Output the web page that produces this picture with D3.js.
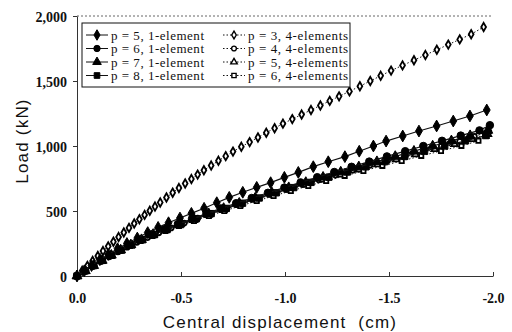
<!DOCTYPE html>
<html>
  <head>
    <meta charset="utf-8">
    <title>Load vs central displacement</title>
  </head>

  <style>

    body {
      margin: 0;
      background: #ffffff;
    }

    .tick text {
      font-family: "Liberation Serif", "Times New Roman", serif;
      font-size: 14px;
      font-weight: bold;
      fill: #111;
    }

    .legend text {
      font-family: "Liberation Serif", "Times New Roman", serif;
      font-size: 13px;
      fill: #111;
    }

    .title {
      font-family: "Liberation Sans", Arial, sans-serif;
      font-size: 17px;
      fill: #111;
      letter-spacing: 1.2px;
    }

  </style>

  <body>
    <script src="https://cdn.jsdelivr.net/npm/d3@7"></script>
    <script>

      // tick values
      var xTicks = [0, -0.5, -1.0, -1.5, -2.0];
      var yTicks = [0, 500, 1000, 1500, 2000];

      // [displacement (cm), load (kN)]
      var p3Four = [[0,0],[-0.025,40],[-0.05,78],[-0.075,116],[-0.1,154],[-0.125,192],[-0.15,228],
        [-0.175,264],[-0.2,300],[-0.225,335],[-0.25,370],[-0.275,404],[-0.3,437],[-0.325,470],
        [-0.35,502],[-0.375,534],[-0.4,566],[-0.43,604],[-0.46,641],[-0.49,677],[-0.52,712],
        [-0.55,746],[-0.58,780],[-0.61,814],[-0.645,850],[-0.68,886],[-0.715,922],[-0.75,957],
        [-0.79,994],[-0.83,1030],[-0.87,1066],[-0.91,1102],[-0.95,1137],[-0.99,1172],[-1.035,1207],
        [-1.08,1242],[-1.125,1277],[-1.17,1312],[-1.215,1347],[-1.26,1382],[-1.31,1420],[-1.36,1460],
        [-1.41,1500],[-1.46,1540],[-1.51,1580],[-1.565,1620],[-1.62,1660],[-1.675,1700],[-1.73,1740],
        [-1.785,1780],[-1.84,1820],[-1.895,1860],[-1.955,1915]];

      var p5One = [[0,0],[-0.035,40],[-0.07,80],[-0.11,125],[-0.15,165],[-0.195,210],[-0.24,250],
        [-0.29,292],[-0.34,334],[-0.39,374],[-0.44,410],[-0.495,446],[-0.55,482],[-0.611,521],
        [-0.672,564],[-0.732,605],[-0.797,644],[-0.864,682],[-0.931,718],[-0.997,759],[-1.064,797],
        [-1.136,841],[-1.208,879],[-1.288,918],[-1.357,960],[-1.425,1000],[-1.486,1038],[-1.566,1077],
        [-1.644,1115],[-1.729,1154],[-1.809,1192],[-1.889,1231],[-1.97,1277]];

      var p6One = [[0,0],[-0.04,40],[-0.079,80],[-0.12,120],[-0.163,160],[-0.207,200],[-0.255,240],
        [-0.305,280],[-0.36,320],[-0.42,360],[-0.485,400],[-0.553,440],[-0.622,480],[-0.692,520],
        [-0.765,560],[-0.84,600],[-0.918,640],[-0.997,680],[-1.075,720],[-1.155,760],[-1.237,800],
        [-1.32,840],[-1.405,880],[-1.49,920],[-1.578,960],[-1.665,1000],[-1.755,1040],[-1.845,1080],
        [-1.935,1120],[-1.985,1160]];

      var p7One = [[0,0],[-0.04,40],[-0.08,80],[-0.121,120],[-0.165,160],[-0.21,200],[-0.259,240],
        [-0.31,280],[-0.366,320],[-0.427,360],[-0.492,400],[-0.562,440],[-0.633,480],[-0.705,520],
        [-0.78,560],[-0.857,600],[-0.937,640],[-1.018,680],[-1.1,720],[-1.183,760],[-1.268,800],
        [-1.355,840],[-1.442,880],[-1.53,920],[-1.62,960],[-1.71,1000],[-1.8,1040],[-1.89,1080],
        [-1.975,1120]];

      var p8One = [[0,0],[-0.04,40],[-0.08,80],[-0.122,120],[-0.167,160],[-0.213,200],[-0.263,240],
        [-0.314,280],[-0.371,320],[-0.433,360],[-0.5,400],[-0.573,440],[-0.645,480],[-0.718,520],
        [-0.796,560],[-0.876,600],[-0.958,640],[-1.042,680],[-1.125,720],[-1.211,760],[-1.3,800],
        [-1.389,840],[-1.481,880],[-1.576,920],[-1.671,960],[-1.768,1000],[-1.868,1040],[-1.965,1080]];

      var p4Four = [[0,0],[-0.037,37],[-0.074,74],[-0.113,111],[-0.154,148],[-0.196,185],[-0.241,222],
        [-0.288,259],[-0.339,296],[-0.393,333],[-0.452,370],[-0.515,407],[-0.58,444],[-0.647,481],
        [-0.715,518],[-0.785,555],[-0.858,592],[-0.933,629],[-1.008,666],[-1.085,703],[-1.163,740],
        [-1.243,777],[-1.325,814],[-1.408,851],[-1.493,888],[-1.578,925],[-1.665,962],[-1.752,999],
        [-1.84,1036],[-1.91,1073],[-1.98,1110]];

      var p5Four = [[0,0],[-0.039,39],[-0.078,78],[-0.119,117],[-0.162,156],[-0.207,195],[-0.256,234],
        [-0.308,273],[-0.364,312],[-0.425,351],[-0.49,390],[-0.56,429],[-0.63,468],[-0.703,507],
        [-0.778,546],[-0.855,585],[-0.935,624],[-1.016,663],[-1.098,702],[-1.182,741],[-1.268,780],
        [-1.356,819],[-1.445,858],[-1.535,897],[-1.627,936],[-1.72,975],[-1.815,1014],[-1.9,1053],
        [-1.975,1092]];

      var p6Four = [[0,0],[-0.038,38],[-0.077,77],[-0.117,115],[-0.16,154],[-0.205,192],[-0.254,231],
        [-0.306,269],[-0.363,308],[-0.425,346],[-0.49,385],[-0.562,423],[-0.634,462],[-0.708,500],
        [-0.785,539],[-0.864,577],[-0.945,616],[-1.028,654],[-1.112,693],[-1.198,731],[-1.287,770],
        [-1.377,808],[-1.468,847],[-1.561,885],[-1.655,924],[-1.75,962],[-1.848,1001],[-1.93,1040],
        [-1.97,1078]];

      var seriesNames = ["p = 5, 1-element", "p = 6, 1-element", "p = 7, 1-element", "p = 8, 1-element",
        "p = 3, 4-elements", "p = 4, 4-elements", "p = 5, 4-elements", "p = 6, 4-elements"];
      var seriesData = [p5One, p6One, p7One, p8One, p3Four, p4Four, p5Four, p6Four];
      var seriesShape = [d3.symbolDiamond, d3.symbolCircle, d3.symbolTriangle, d3.symbolSquare,
        d3.symbolDiamond, d3.symbolCircle, d3.symbolTriangle, d3.symbolSquare];
      var seriesSize = [40, 44, 42, 40, 20, 20, 20, 18];

      var width = 512,
        height = 332;

      var svg = d3.select("body")
        .append("svg")
        .attr("width", width)
        .attr("height", height);

      var x = d3.scaleLinear().domain([0, -2]).range([77, 493]);
      var y = d3.scaleLinear().domain([0, 2000]).range([276, 16]);

      // top frame line (dotted, faint)
      svg.append("line")
        .attr("x1", x(0)).attr("x2", x(-2))
        .attr("y1", y(2000)).attr("y2", y(2000))
        .attr("stroke", "#666")
        .attr("stroke-dasharray", "2,2");

      var yAxis = svg.append("g")
        .attr("transform", "translate(" + x(0) + ",0)")
        .call(d3.axisLeft(y).tickValues(yTicks).tickFormat(d3.format(",")).tickSize(4).tickSizeOuter(0).tickPadding(6));

      var xAxis = svg.append("g")
        .attr("transform", "translate(0," + y(0) + ")")
        .call(d3.axisBottom(x).tickValues(xTicks).tickFormat(d => d.toFixed(1)).tickSize(-4).tickSizeOuter(0).tickPadding(17));

      svg.selectAll(".domain").attr("stroke", "#333");
      svg.selectAll(".tick line").attr("stroke", "#333");
      yAxis.selectAll(".tick text").attr("dy", "0.36em");

      // axis titles
      svg.append("text")
        .attr("class", "title")
        .attr("transform", "translate(28,141) rotate(-90)")
        .attr("text-anchor", "middle")
        .text("Load (kN)");

      svg.append("text")
        .attr("class", "title")
        .attr("x", 280)
        .attr("y", 328)
        .attr("text-anchor", "middle")
        .attr("xml:space", "preserve")
        .text("Central displacement  (cm)");

      var line = d3.line()
        .x(d => x(d[0]))
        .y(d => y(d[1]));

      // draw 4-element first, then 1-element on top
      var order = [4, 5, 6, 7, 3, 2, 1, 0];

      order.forEach(function (i) {
        var open = i >= 4;
        var g = svg.append("g");

        g.append("path")
          .datum(seriesData[i])
          .attr("d", line)
          .attr("fill", "none")
          .attr("stroke", "#111")
          .attr("stroke-width", open ? 1 : 1.2)
          .attr("stroke-dasharray", open ? "1.5,2" : null);

        g.selectAll("path.mark")
          .data(seriesData[i])
          .enter()
          .append("path")
          .attr("class", "mark")
          .attr("transform", d => "translate(" + x(d[0]) + "," + y(d[1]) + ")")
          .attr("d", d3.symbol().type(seriesShape[i]).size(seriesSize[i]))
          .attr("fill", open ? "#fff" : "#000")
          .attr("stroke", "#000")
          .attr("stroke-width", open ? 1.8 : 1);
      });

      // legend
      var legend = svg.append("g").attr("class", "legend");

      legend.append("rect")
        .attr("x", 82).attr("y", 23)
        .attr("width", 268).attr("height", 64)
        .attr("fill", "#fff")
        .attr("stroke", "#111")
        .attr("stroke-width", 1);

      seriesNames.forEach(function (name, i) {
        var open = i >= 4;
        var col = open ? 1 : 0;
        var row = i % 4;
        var x0 = col ? 223 : 86;
        var cy = 35 + row * 13.5;

        legend.append("line")
          .attr("x1", x0).attr("x2", x0 + 22)
          .attr("y1", cy).attr("y2", cy)
          .attr("stroke", "#111")
          .attr("stroke-width", 1)
          .attr("stroke-dasharray", open ? "1.5,2" : null);

        legend.append("path")
          .attr("transform", "translate(" + (x0 + 11) + "," + cy + ")")
          .attr("d", d3.symbol().type(seriesShape[i]).size(open ? 18 : 32))
          .attr("fill", open ? "#fff" : "#000")
          .attr("stroke", "#000")
          .attr("stroke-width", open ? 1.4 : 1);

        legend.append("text")
          .attr("x", x0 + 25)
          .attr("y", cy)
          .attr("dy", "0.35em")
          .attr("textLength", open ? 100 : 93)
          .text(name);
      });

    </script>
  </body>
</html>
